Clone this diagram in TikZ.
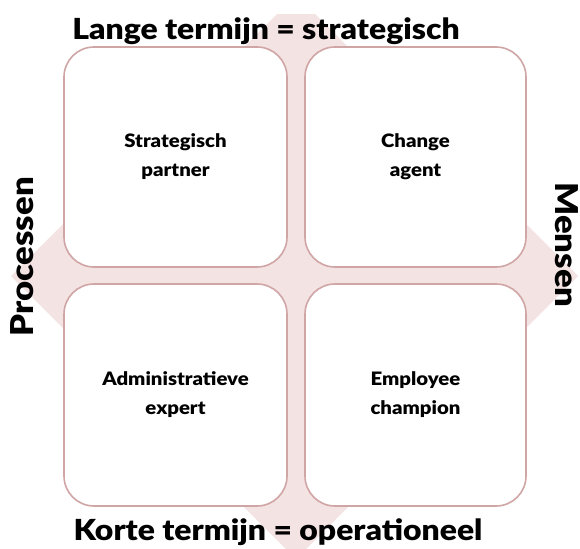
\documentclass[tikz,border=0pt]{standalone}
\usepackage{fontspec}
\setmainfont{Lato}[BoldFont=Lato Black]
\newfontfamily\labelfont{Lato}[BoldFont=Lato Black,FakeStretch=1.1]
\definecolor{crossfill}{RGB}{244,227,227}
\definecolor{boxline}{RGB}{208,165,165}
\begin{document}
\begin{tikzpicture}[x=1pt,y=-1pt,
  quad/.style={draw=boxline,line width=1.6pt,fill=white,rounded corners=30pt},
  quadtext/.style={font=\labelfont\fontsize{18.5}{29}\selectfont\bfseries,align=center},
  axis/.style={font=\labelfont\fontsize{29}{32}\selectfont\bfseries},
  sideaxis/.style={font=\labelfont\fontsize{31.5}{34}\selectfont\bfseries}]
\useasboundingbox (0,0) rectangle (580,548);
% four-way arrow behind the quadrants
\begin{scope}
\clip (0,15) rectangle (580,548);
\fill[crossfill]
  (296,-5) -- (349,48) -- (346,48) -- (346,226) -- (526,226) -- (526,224)
  -- (578,276) -- (526,328) -- (526,326) -- (346,326) -- (346,506) -- (349,506)
  -- (296,559) -- (243,506) -- (246,506) -- (246,326) -- (63,326) -- (63,328)
  -- (11,276) -- (63,224) -- (63,226) -- (246,226) -- (246,48) -- (243,48) -- cycle;
\end{scope}
% quadrants
\draw[quad] (64,47) rectangle (287,267);
\draw[quad] (305,47) rectangle (526,267);
\draw[quad] (64,284) rectangle (287,506);
\draw[quad] (305,284) rectangle (526,506);
\node[quadtext] (sp) at (175.5,157) {Strategisch\\partner};
\node[quadtext] (ca) at (415.5,157) {Change\\agent};
\node[quadtext] (ae) at (175.5,395) {Administratieve\\expert};
\node[quadtext] (ec) at (415.5,395) {Employee\\champion};
% axis labels
\node[axis] (top) at (266,31) {Lange termijn = strategisch};
\node[axis] (bottom) at (278,532) {Korte termijn = operationeel};
\node[sideaxis,rotate=90] (left) at (22,257) {Processen};
\node[sideaxis,rotate=-90] (right) at (567,245) {Mensen};
\end{tikzpicture}
\end{document}
